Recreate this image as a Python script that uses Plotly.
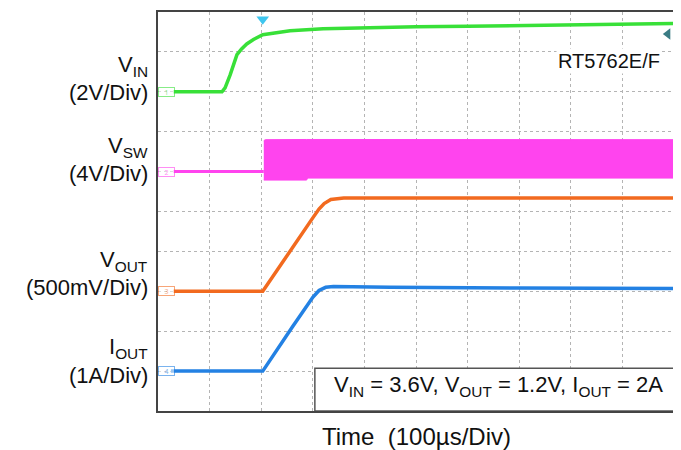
import plotly.graph_objects as go

# ---- data (time in µs, 100 µs/div; values in physical units) ----
vin_t = [30, 124, 130, 140, 153, 162, 172, 185, 203, 230, 256, 320, 372, 500, 600, 700, 800, 900, 1000]
vin_v = [0, 0, 0.2, 0.86, 1.86, 2.15, 2.4, 2.62, 2.86, 2.98, 3.06, 3.16, 3.2, 3.26, 3.28, 3.32, 3.35, 3.38, 3.42]

vsw_low_t = [30, 205]
vsw_low_v = [0, 0]
vsw_band_t = [205, 208, 288, 290, 1000]
vsw_top_v = [3.1, 3.2, 3.22, 3.22, 3.2]
vsw_bot_v = [-0.85, -0.85, -0.85, -0.65, -0.65]

vout_t = [30, 203, 300, 312, 322, 335, 360, 500, 700, 1000]
vout_v = [0, 0, 0.92, 1.03, 1.1, 1.15, 1.17, 1.17, 1.17, 1.17]

iout_t = [25, 203, 260, 300, 312, 325, 340, 450, 700, 1000]
iout_a = [0, 0, 1.1, 1.85, 2.02, 2.1, 2.12, 2.1, 2.08, 2.07]

# channel ground positions (div) and scales (unit/div)
ground = {"VIN": 8.0, "VSW": 6.0, "VOUT": 3.0, "IOUT": 1.0}
scale = {"VIN": 2.0, "VSW": 4.0, "VOUT": 0.5, "IOUT": 1.0}
colors = {"VIN": "#38e038", "VSW": "#ff44ee", "VOUT": "#f26a1f", "IOUT": "#2381e3"}

trigger_t = 203
ref_marker_level = 9.45

def to_div(ch, vals):
    return [ground[ch] + v / scale[ch] for v in vals]

fig = go.Figure()

fig.add_trace(go.Scatter(x=vin_t, y=to_div("VIN", vin_v), mode="lines",
                         line=dict(color=colors["VIN"], width=3.5), hoverinfo="skip"))
fig.add_trace(go.Scatter(x=vsw_low_t, y=to_div("VSW", vsw_low_v), mode="lines",
                         line=dict(color=colors["VSW"], width=3), hoverinfo="skip"))
fig.add_trace(go.Scatter(x=vsw_band_t, y=to_div("VSW", vsw_bot_v), mode="lines",
                         line=dict(color=colors["VSW"], width=1), hoverinfo="skip"))
fig.add_trace(go.Scatter(x=vsw_band_t, y=to_div("VSW", vsw_top_v), mode="lines",
                         fill="tonexty", fillcolor=colors["VSW"],
                         line=dict(color=colors["VSW"], width=1), hoverinfo="skip"))
fig.add_trace(go.Scatter(x=vout_t, y=to_div("VOUT", vout_v), mode="lines",
                         line=dict(color=colors["VOUT"], width=3.5), hoverinfo="skip"))
fig.add_trace(go.Scatter(x=iout_t, y=to_div("IOUT", iout_a), mode="lines",
                         line=dict(color=colors["IOUT"], width=3.5), hoverinfo="skip"))

# trigger marker and reference marker
fig.add_trace(go.Scatter(x=[trigger_t], y=[9.82], mode="markers", cliponaxis=False,
                         marker=dict(symbol="triangle-down", size=11, color="#3ec6ef"),
                         hoverinfo="skip"))
fig.add_trace(go.Scatter(x=[988], y=[ref_marker_level], mode="markers", cliponaxis=False,
                         marker=dict(symbol="triangle-left", size=10, color="#3b7c84"),
                         hoverinfo="skip"))

annotations = []
# channel ground tags
for i, ch in enumerate(["VIN", "VSW", "VOUT", "IOUT"]):
    annotations.append(dict(x=16, y=ground[ch], xref="x", yref="y", text=str(i + 1),
                            showarrow=False, font=dict(size=7, color=colors[ch]),
                            bordercolor=colors[ch], borderwidth=1, borderpad=0,
                            bgcolor="rgba(255,255,255,0.9)", width=15, height=8, opacity=0.6))

lab_font = dict(family="Liberation Sans, Arial, sans-serif", size=22, color="#111111")
labels = [("V<sub>IN</sub>", 8.64), ("(2V/Div)", 7.98),
          ("V<sub>SW</sub>", 6.62), ("(4V/Div)", 5.95),
          ("V<sub>OUT</sub>", 3.75), ("(500mV/Div)", 3.09),
          ("I<sub>OUT</sub>", 1.57), ("(1A/Div)", 0.9)]
for txt, yv in labels:
    annotations.append(dict(x=-0.0155, y=yv, xref="paper", yref="y", text=txt,
                            xanchor="right", yanchor="middle", showarrow=False, font=lab_font))

annotations.append(dict(x=977, y=8.78, xref="x", yref="y", text="RT5762E/F",
                        xanchor="right", yanchor="middle", showarrow=False, bgcolor="white",
                        font=dict(family="Liberation Sans, Arial, sans-serif", size=20, color="#111111")))

annotations.append(dict(x=982, y=0.62, xref="x", yref="y",
                        text="V<sub>IN</sub> = 3.6V, V<sub>OUT</sub> = 1.2V, I<sub>OUT</sub> = 2A",
                        xanchor="right", yanchor="middle", showarrow=False,
                        font=dict(family="Liberation Sans, Arial, sans-serif", size=22, color="#111111")))

annotations.append(dict(x=0.5, y=-0.063, xref="paper", yref="paper", text="Time  (100µs/Div)",
                        xanchor="center", yanchor="middle", showarrow=False,
                        font=dict(family="Liberation Sans, Arial, sans-serif", size=24, color="#111111")))

shapes = [dict(type="rect", xref="x", yref="y", x0=304, x1=1000, y0=0, y1=1.07,
               fillcolor="white", line=dict(color="#555555", width=1.5), layer="above")]

axis_common = dict(showticklabels=False, ticks="", zeroline=False, showgrid=True,
                   gridcolor="#b4b4b4", griddash="dot", gridwidth=1,
                   showline=True, mirror=True, linecolor="#444444", linewidth=2)

# page body has an 8px margin, so the figure is 8px smaller and offsets are reduced
fig.update_layout(
    width=673, height=442,
    margin=dict(l=150, r=7, t=2, b=39),
    paper_bgcolor="white", plot_bgcolor="white",
    showlegend=False,
    xaxis=dict(range=[0, 1000], dtick=100, **axis_common),
    yaxis=dict(range=[0, 10], dtick=1, **axis_common),
    annotations=annotations,
    shapes=shapes,
)

fig.write_html("out.html")
